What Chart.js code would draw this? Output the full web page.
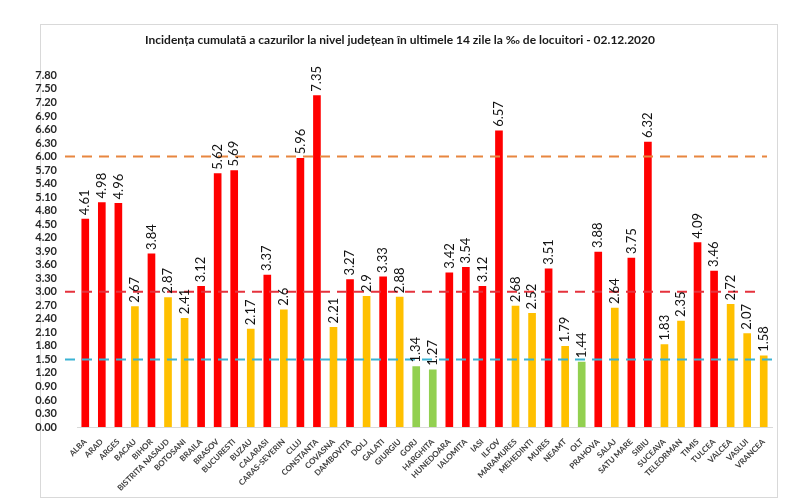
<!DOCTYPE html>
<html>
<head>
<meta charset="utf-8">
<script src="https://cdn.jsdelivr.net/npm/chart.js@4/dist/chart.umd.min.js"></script>
<style>
  html, body { margin: 0; padding: 0; background: #fff; }
  #wrap { width: 800px; height: 500px; }
</style>
</head>
<body>
<div id="wrap"><canvas id="grafica" width="800" height="500"></canvas></div>
<script>
// Judete si incidenta (la mia de locuitori)
const judete = [
    "ALBA", "ARAD", "ARGES", "BACAU", "BIHOR", "BISTRITA NASAUD", "BOTOSANI",
    "BRAILA", "BRASOV", "BUCURESTI", "BUZAU", "CALARASI", "CARAS-SEVERIN",
    "CLUJ", "CONSTANTA", "COVASNA", "DAMBOVITA", "DOLJ", "GALATI", "GIURGIU",
    "GORJ", "HARGHITA", "HUNEDOARA", "IALOMITA", "IASI", "ILFOV", "MARAMURES",
    "MEHEDINTI", "MURES", "NEAMT", "OLT", "PRAHOVA", "SALAJ", "SATU MARE",
    "SIBIU", "SUCEAVA", "TELEORMAN", "TIMIS", "TULCEA", "VALCEA", "VASLUI",
    "VRANCEA"
];

const incidenta = [
    4.61, 4.98, 4.96, 2.67, 3.84, 2.87, 2.41,
    3.12, 5.62, 5.69, 2.17, 3.37, 2.6,
    5.96, 7.35, 2.21, 3.27, 2.9, 3.33, 2.88,
    1.34, 1.27, 3.42, 3.54, 3.12, 6.57, 2.68,
    2.52, 3.51, 1.79, 1.44, 3.88, 2.64, 3.75,
    6.32, 1.83, 2.35, 4.09, 3.46, 2.72, 2.07,
    1.58
];

// Praguri (scenarii): verde / galben / rosu / 6 la mie
const praguri = [1.5, 3, 6];

const yTicks = [
    0, 0.3, 0.6, 0.9, 1.2, 1.5, 1.8, 2.1, 2.4, 2.7, 3.0, 3.3, 3.6,
    3.9, 4.2, 4.5, 4.8, 5.1, 5.4, 5.7, 6.0, 6.3, 6.6, 6.9, 7.2, 7.5, 7.8
];

const TITLU = "Incidența cumulată a cazurilor la nivel județean în ultimele 14 zile la ‰ de locuitori - 02.12.2020";

// culoare dupa scenariu
function culoare(v) {
    if (v > praguri[1]) return "#ff0000";
    if (v > praguri[0]) return "#ffc000";
    return "#92d050";
}

// stil linii de prag (aceeasi ordine ca praguri)
const stilPraguri = [
    { color: "#3bb3d4", extra: 5 },
    { color: "#e5323c", extra: -12 },
    { color: "#e8863f", extra: -5 }
];

const ramaPlugin = {
    id: "rama",
    beforeDraw(chart) {
        const c = chart.ctx;
        c.save();
        c.strokeStyle = "#d9d9d9";
        c.lineWidth = 1;
        c.strokeRect(40.5, 24.5, 737, 473);
        c.restore();
    }
};

const praguriPlugin = {
    id: "praguri",
    afterDatasetsDraw(chart) {
        const c = chart.ctx;
        const y = chart.scales.y;
        const area = chart.chartArea;
        c.save();
        c.lineWidth = 2;
        c.setLineDash([10, 7]);
        praguri.forEach((p, i) => {
            const py = y.getPixelForValue(p);
            c.strokeStyle = stilPraguri[i].color;
            c.beginPath();
            c.moveTo(area.left - 12, py);
            c.lineTo(area.right + stilPraguri[i].extra, py);
            c.stroke();
        });
        c.restore();
    }
};

const valoriPlugin = {
    id: "valori",
    afterDraw(chart) {
        const c = chart.ctx;
        const meta = chart.getDatasetMeta(0);
        c.save();
        c.fillStyle = "#111";
        c.font = "13px Lato";
        c.textAlign = "left";
        c.textBaseline = "middle";
        meta.data.forEach((bar, i) => {
            c.save();
            c.translate(bar.x, bar.y - 4);
            c.rotate(-Math.PI / 2);
            c.fillText(String(incidenta[i]), 0, 0);
            c.restore();
        });
        c.restore();
    }
};

new Chart(document.getElementById("grafica"), {
    type: "bar",
    data: {
        labels: judete,
        datasets: [{
            data: incidenta,
            backgroundColor: incidenta.map(culoare),
            barThickness: 7,
            borderWidth: 0
        }]
    },
    options: {
        responsive: false,
        animation: false,
        layout: { padding: { left: 28, right: 28, top: 0, bottom: 0 } },
        plugins: {
            legend: { display: false },
            tooltip: { enabled: false },
            title: {
                display: true,
                text: TITLU,
                color: "#1a1a1a",
                font: { family: "Lato", size: 12, weight: "bold" },
                padding: { top: 33, bottom: 28 }
            }
        },
        scales: {
            x: {
                grid: { display: false },
                border: { display: true, color: "#d9d9d9" },
                afterFit: s => { s.height = 73; },
                ticks: {
                    autoSkip: false,
                    minRotation: 45,
                    maxRotation: 45,
                    padding: 2,
                    color: "#404040",
                    font: { family: "Lato", size: 8, weight: "bold" }
                }
            },
            y: {
                min: 0,
                max: 7.8,
                grid: { display: false },
                border: { display: false },
                afterFit: s => { s.width = 49; },
                afterBuildTicks: s => { s.ticks = yTicks.map(v => ({ value: v })); },
                ticks: {
                    autoSkip: false,
                    padding: 12,
                    color: "#262626",
                    font: { family: "Lato", size: 11, weight: "bold" },
                    callback: v => Number(v).toFixed(2)
                }
            }
        }
    },
    plugins: [ramaPlugin, praguriPlugin, valoriPlugin]
});
</script>
</body>
</html>
